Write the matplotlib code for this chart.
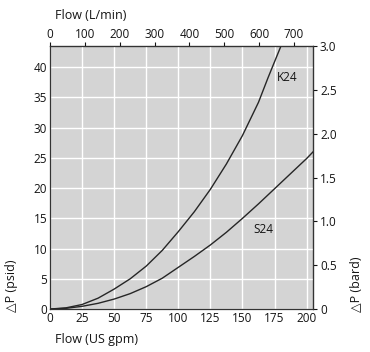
import numpy as np
import matplotlib
matplotlib.use("Agg")
import matplotlib.pyplot as plt

plt.rcParams['font.family'] = ['Open Sans', 'DejaVu Sans']

# values (flow in US gpm, pressure drop in psid)
k24_flow = [0, 12.5, 25, 37.5, 50, 62.5, 75, 87.5, 100, 112.5, 125, 137.5,
            150, 162.5, 170, 180]
k24_dp = [0, 0.2, 0.75, 1.8, 3.3, 5.0, 7.1, 9.7, 12.8, 16.1, 19.8, 24.0,
          28.7, 34.2, 38.3, 43.5]
s24_flow = [0, 12.5, 25, 37.5, 50, 62.5, 75, 87.5, 100, 112.5, 125, 137.5,
            150, 162.5, 175, 187.5, 200, 205]
s24_dp = [0, 0.12, 0.45, 0.95, 1.65, 2.55, 3.7, 5.1, 6.9, 8.7, 10.6, 12.7,
          15.0, 17.4, 19.9, 22.4, 24.9, 26.0]

gpm_ticks = [0, 25, 50, 75, 100, 125, 150, 175, 200]
lpm_ticks = [0, 100, 200, 300, 400, 500, 600, 700]
psi_ticks = [0, 5, 10, 15, 20, 25, 30, 35, 40]
bar_ticks = [0, 0.5, 1.0, 1.5, 2.0, 2.5, 3.0]
bar_labels = ['0', '0.5', '1.0', '1.5', '2.0', '2.5', '3.0']

LPM_PER_GPM = 3.68
PSI_PER_BAR = 14.5
TXT = '#141414'

fig = plt.figure(figsize=(3.7, 3.52), dpi=100)
ax = fig.add_axes([0.135, 0.122, 0.711, 0.747])
ax.set_facecolor('#d4d4d4')

ax.plot(k24_flow, k24_dp, color='#262626', lw=1.0, solid_joinstyle='round')
ax.plot(s24_flow, s24_dp, color='#262626', lw=1.0, solid_joinstyle='round')
ax.text(185, 38.3, 'K24', fontsize=8.5, ha='center', va='center', color=TXT)
ax.text(166, 13.1, 'S24', fontsize=8.5, ha='center', va='center', color=TXT)

ax.set_xlim(0, 205)
ax.set_ylim(0, 43.5)
ax.set_xticks(gpm_ticks)
ax.set_yticks(psi_ticks)
ax.grid(True, color='white', lw=1.0)
ax.set_axisbelow(True)
ax.tick_params(axis='both', length=0, labelsize=8.5, pad=2, colors=TXT)

for side in ['left', 'bottom', 'top', 'right']:
    ax.spines[side].set_color('#333333')
    ax.spines[side].set_linewidth(0.9)

# top axis in L/min
top = ax.secondary_xaxis('top', functions=(lambda x: x * LPM_PER_GPM,
                                           lambda x: x / LPM_PER_GPM))
top.set_xticks(lpm_ticks)
top.tick_params(length=3, labelsize=8.5, pad=1, colors=TXT)

# right axis in bar
right = ax.secondary_yaxis('right', functions=(lambda y: y / PSI_PER_BAR,
                                               lambda y: y * PSI_PER_BAR))
right.set_yticks(bar_ticks)
right.set_yticklabels(bar_labels)
right.tick_params(length=3, labelsize=8.5, pad=2, colors=TXT)

fig.text(0.148, 0.955, 'Flow (L/min)', fontsize=9, ha='left', va='center', color=TXT)
fig.text(0.148, 0.035, 'Flow (US gpm)', fontsize=9, ha='left', va='center', color=TXT)
fig.text(0.03, 0.115, '\u25b3P (psid)', fontsize=9, rotation=90, ha='center', va='bottom', color=TXT)
fig.text(0.963, 0.115, '\u25b3P (bard)', fontsize=9, rotation=90, ha='center', va='bottom', color=TXT)

fig.savefig('out.png', dpi=100)
